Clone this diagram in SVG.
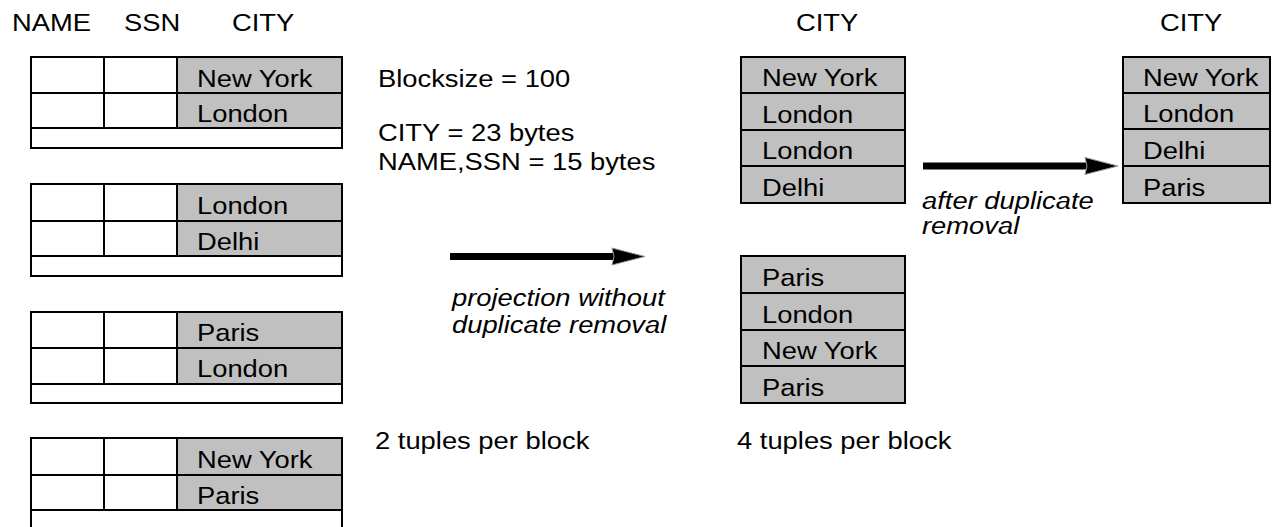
<svg xmlns="http://www.w3.org/2000/svg" width="1272" height="527" viewBox="0 0 1272 527">
  <style>
    text { font-family: "Liberation Sans", Arial, sans-serif; font-size: 24px; fill: #000; }
    .it { font-style: italic; }
    .cell { fill: #fff; stroke: #000; stroke-width: 2; }
    .city { fill: #c0c0c0; stroke: #000; stroke-width: 2; }
    .shaft { stroke: #000; stroke-width: 7; fill: none; }
    .head { fill: #000; stroke: #999; stroke-width: 1; }
  </style>

  <!-- column headers (text is set slightly wide, hence the x-scale) -->
  <g id="headers">
    <text transform="translate(12 31) scale(1.14 1)">NAME</text>
    <text transform="translate(124 31) scale(1.14 1)">SSN</text>
    <text transform="translate(232 31) scale(1.14 1)">CITY</text>
    <text transform="translate(796 31) scale(1.14 1)">CITY</text>
    <text transform="translate(1160 31) scale(1.14 1)">CITY</text>
  </g>

  <!-- full-tuple blocks: two tuples and unused space each -->
  <g id="block1">
    <rect class="cell" x="31" y="57" width="311" height="91"/>
    <rect class="cell" x="31" y="57" width="73" height="36"/>
    <rect class="cell" x="104" y="57" width="73" height="36"/>
    <rect class="city" x="177" y="57" width="165" height="36"/>
    <rect class="cell" x="31" y="93" width="73" height="35"/>
    <rect class="cell" x="104" y="93" width="73" height="35"/>
    <rect class="city" x="177" y="93" width="165" height="35"/>
    <text transform="translate(197 87) scale(1.14 1)">New York</text>
    <text transform="translate(197 122) scale(1.14 1)">London</text>
  </g>
  <g id="block2">
    <rect class="cell" x="31" y="184" width="311" height="92"/>
    <rect class="cell" x="31" y="184" width="73" height="37"/>
    <rect class="cell" x="104" y="184" width="73" height="37"/>
    <rect class="city" x="177" y="184" width="165" height="37"/>
    <rect class="cell" x="31" y="221" width="73" height="35"/>
    <rect class="cell" x="104" y="221" width="73" height="35"/>
    <rect class="city" x="177" y="221" width="165" height="35"/>
    <text transform="translate(197 214) scale(1.14 1)">London</text>
    <text transform="translate(197 250) scale(1.14 1)">Delhi</text>
  </g>
  <g id="block3">
    <rect class="cell" x="31" y="312" width="311" height="91"/>
    <rect class="cell" x="31" y="312" width="73" height="36"/>
    <rect class="cell" x="104" y="312" width="73" height="36"/>
    <rect class="city" x="177" y="312" width="165" height="36"/>
    <rect class="cell" x="31" y="348" width="73" height="36"/>
    <rect class="cell" x="104" y="348" width="73" height="36"/>
    <rect class="city" x="177" y="348" width="165" height="36"/>
    <text transform="translate(197 341) scale(1.14 1)">Paris</text>
    <text transform="translate(197 377) scale(1.14 1)">London</text>
  </g>
  <g id="block4">
    <rect class="cell" x="31" y="438" width="311" height="93"/>
    <rect class="cell" x="31" y="438" width="73" height="37"/>
    <rect class="cell" x="104" y="438" width="73" height="37"/>
    <rect class="city" x="177" y="438" width="165" height="37"/>
    <rect class="cell" x="31" y="475" width="73" height="35"/>
    <rect class="cell" x="104" y="475" width="73" height="35"/>
    <rect class="city" x="177" y="475" width="165" height="35"/>
    <text transform="translate(197 468) scale(1.14 1)">New York</text>
    <text transform="translate(197 504) scale(1.14 1)">Paris</text>
  </g>

  <!-- notes -->
  <g id="notes">
    <text transform="translate(378 87) scale(1.14 1)">Blocksize = 100</text>
    <text transform="translate(378 141) scale(1.14 1)">CITY = 23 bytes</text>
    <text transform="translate(378 170) scale(1.14 1)">NAME,SSN = 15 bytes</text>
    <text transform="translate(375 449) scale(1.14 1)">2 tuples per block</text>
    <text transform="translate(737 449) scale(1.14 1)">4 tuples per block</text>
  </g>

  <!-- projected blocks: four CITY values each -->
  <g id="proj1">
    <rect class="city" x="741" y="57" width="164" height="36"/>
    <rect class="city" x="741" y="93" width="164" height="37"/>
    <rect class="city" x="741" y="130" width="164" height="36"/>
    <rect class="city" x="741" y="166" width="164" height="37"/>
    <text transform="translate(762 86) scale(1.14 1)">New York</text>
    <text transform="translate(762 123) scale(1.14 1)">London</text>
    <text transform="translate(762 159) scale(1.14 1)">London</text>
    <text transform="translate(762 196) scale(1.14 1)">Delhi</text>
  </g>
  <g id="proj2">
    <rect class="city" x="741" y="256" width="164" height="37"/>
    <rect class="city" x="741" y="293" width="164" height="37"/>
    <rect class="city" x="741" y="330" width="164" height="36"/>
    <rect class="city" x="741" y="366" width="164" height="37"/>
    <text transform="translate(762 286) scale(1.14 1)">Paris</text>
    <text transform="translate(762 323) scale(1.14 1)">London</text>
    <text transform="translate(762 359) scale(1.14 1)">New York</text>
    <text transform="translate(762 396) scale(1.14 1)">Paris</text>
  </g>

  <!-- result after duplicate removal -->
  <g id="distinct">
    <rect class="city" x="1123" y="57" width="147" height="36"/>
    <rect class="city" x="1123" y="93" width="147" height="36"/>
    <rect class="city" x="1123" y="129" width="147" height="37"/>
    <rect class="city" x="1123" y="166" width="147" height="37"/>
    <text transform="translate(1143 86) scale(1.14 1)">New York</text>
    <text transform="translate(1143 122) scale(1.14 1)">London</text>
    <text transform="translate(1143 159) scale(1.14 1)">Delhi</text>
    <text transform="translate(1143 196) scale(1.14 1)">Paris</text>
  </g>

  <!-- operation arrows -->
  <g id="connectors">
    <line class="shaft" x1="450" y1="256.5" x2="614" y2="256.5"/>
    <polygon class="head" points="612,248 645,256.5 612,265 614,256.5"/>
    <line class="shaft" x1="923" y1="166" x2="1087" y2="166"/>
    <polygon class="head" points="1085,157.5 1118,166 1085,174.5 1087,166"/>
  </g>

  <!-- arrow captions -->
  <g id="captions">
    <text class="it" transform="translate(452 306) scale(1.14 1)">projection without</text>
    <text class="it" transform="translate(452 333) scale(1.14 1)">duplicate removal</text>
    <text class="it" transform="translate(922 209) scale(1.14 1)">after duplicate</text>
    <text class="it" transform="translate(922 234) scale(1.14 1)">removal</text>
  </g>
</svg>
